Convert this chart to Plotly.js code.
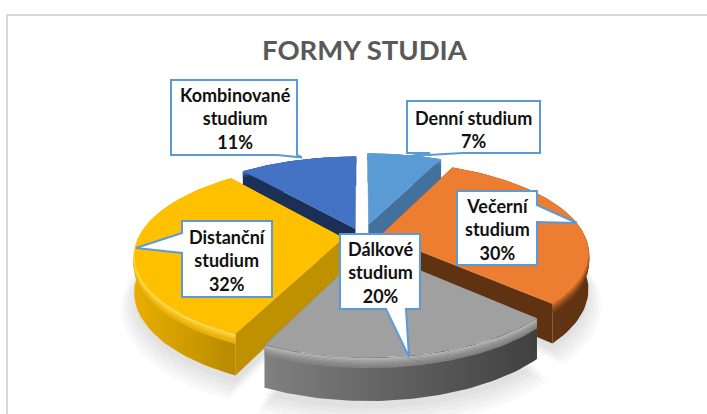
<!DOCTYPE html>
<html><head><meta charset="utf-8">
<script src="https://cdn.plot.ly/plotly-3.0.1.min.js"></script>
<style>html,body{margin:0;padding:0;background:#fff}#c{width:707px;height:414px}</style>
</head><body><div id="c"></div>
<script>
// Data
var categories = ["Denní<br>studium","Večerní<br>studium","Dálkové<br>studium","Distanční<br>studium","Kombinované<br>studium"];
var values = [7,30,20,32,11];
var chartTitle = "FORMY STUDIA";
// Styles
var topColors  = ["#5B9BD5","#ED7D31","#A0A0A0","#FFC000","#4472C4"];
var cutColors  = ["#41719C","#5F3212","#636363","#BF9000","#1B2F57"];
var wallLeft   = ["#41719C","#6E3B15","#808080","#E8AE00","#1B2F57"];
var wallRight  = ["#41719C","#5F3212","#404040","#B88A00","#1B2F57"];
var rimColors  = ["#5B9BD5","#C9682A","#B4B4B4","#FFD94A","#4472C4"];
var explodes   = [0.15,0.09,0.13,0.09,0.10];
var radii      = [1,1,0.97,1,1];
var drawOrder  = [0,4,1,3,2];
// Projection of the tilted disc
var cx=362, cy=237, rx=205, ry=88, persp=0.18, depth=35;
function P(u,v,drop){var s=1/(1+persp*v);return [cx+rx*u*s, cy-ry*v*s+(drop||0)*s];}
var total=values.reduce(function(a,b){return a+b;},0);
var traces=[];
var toRad=Math.PI/180;
var spans=[],acc=0;
values.forEach(function(v){var a0=acc/total*360;acc+=v;spans.push([a0,acc/total*360]);});
function rad(i,a,r,drop){var m=(spans[i][0]+spans[i][1])/2*toRad,e=explodes[i];
  return P(e*Math.sin(m)+r*radii[i]*Math.sin(a*toRad), e*Math.cos(m)+r*radii[i]*Math.cos(a*toRad), drop);}
function arc(i,r,drop){var p=[],n=60,a0=spans[i][0],a1=spans[i][1];
  for(var k=0;k<=n;k++)p.push(rad(i,a0+(a1-a0)*k/n,r,drop));return p;}
function apex(i,drop){return rad(i,0,0,drop);}
function poly(pts,fill,extra){var t={type:"scatter",mode:"lines",x:pts.map(function(p){return p[0];}),y:pts.map(function(p){return p[1];}),
  fill:"toself",fillcolor:fill,line:{width:0,color:fill},hoverinfo:"skip",showlegend:false};
  if(extra)for(var k in extra)t[k]=extra[k];traces.push(t);}
function stroke(pts,color,w){traces.push({type:"scatter",mode:"lines",x:pts.map(function(p){return p[0];}),y:pts.map(function(p){return p[1];}),
  line:{width:w,color:color},hoverinfo:"skip",showlegend:false});}
function hex(c){return [1,3,5].map(function(o){return parseInt(c.substr(o,2),16);});}
function wallMix(i,t){var x=hex(rimColors[i]),y=hex(wallLeft[i]);
  return "rgb("+x.map(function(v,j){return Math.round(y[j]+(v-y[j])*t);}).join(",")+")";}
// soft ground shadow
[[1.06,14],[1.045,12],[1.03,10],[1.015,8],[1.0,6]].forEach(function(s){
  drawOrder.forEach(function(i){
    poly([apex(i,depth+s[1])].concat(arc(i,s[0],depth+s[1])),"rgba(0,0,0,0.022)");
  });
});
// slices, back to front
drawOrder.forEach(function(i){
  var a=spans[i];
  [a[0],a[1]].forEach(function(ang){
    poly([apex(i,0),rad(i,ang,1,0),rad(i,ang,1,depth),apex(i,depth)],cutColors[i]);
  });
  poly(arc(i,1,0).concat(arc(i,1,depth).reverse()),wallRight[i],
       {fillgradient:{type:"horizontal",colorscale:[[0,wallLeft[i]],[1,wallRight[i]]]}});
  [8,7,6,5,4,3,2,1].forEach(function(d){
    stroke(arc(i,1,d),wallMix(i,Math.pow(1-(d-1)/8,1.6)),1.6);
  });
  poly([apex(i,0)].concat(arc(i,1,0)),topColors[i]);
});
var calloutLine={color:"#5B9BD5",width:2};
function callout(d){return {type:"path",layer:"above",xref:"x",yref:"y",path:d,fillcolor:"#FFFFFF",line:calloutLine};}
var shapes=[
 {type:"path",layer:"below",xref:"x",yref:"y",path:"M7,414 L7,15 L707,15",line:{color:"#D9D9D9",width:2},fillcolor:"rgba(0,0,0,0)"},
 callout("M171,80 L297,80 L297,155 L302,157.5 L277,155 L171,155 Z"),
 callout("M407,101 L540,101 L540,153 L463,153 L410,156 L430,153 L407,153 Z"),
 callout("M457,191 L537,191 L537,205 L577,223 L537,222 L537,265 L457,265 Z"),
 callout("M182,221 L272,221 L272,297 L182,297 L182,253 L136,248 L182,233 Z"),
 callout("M340,234 L420,234 L420,309 L406,309 L409,357 L386,309 L340,309 Z")
];
var labelFont={family:"Lato, 'Open Sans', sans-serif",size:18,color:"#111111",weight:700};
var labelPos=[[473.5,129],[497,229],[380,272],[227,260],[235,118]];
var annotations=categories.map(function(c,i){
  var text=(i===0?c.replace("<br>"," "):c)+"<br>"+Math.round(values[i]/total*100)+"%";
  return {x:labelPos[i][0],y:labelPos[i][1],xref:"x",yref:"y",text:text,showarrow:false,font:labelFont,align:"center",xanchor:"center",yanchor:"middle"};
});
annotations.push({x:364.5,y:49,xref:"x",yref:"y",text:chartTitle,showarrow:false,font:{family:"Lato, 'Open Sans', sans-serif",size:27.5,color:"#595959",weight:700},xanchor:"center",yanchor:"middle"});
Plotly.newPlot("c",traces,{
  width:707,height:414,margin:{l:0,r:0,t:0,b:0},paper_bgcolor:"#fff",plot_bgcolor:"#fff",showlegend:false,
  xaxis:{range:[0,707],visible:false,fixedrange:true},
  yaxis:{range:[414,0],visible:false,fixedrange:true},
  shapes:shapes,annotations:annotations
},{displayModeBar:false,staticPlot:true});
</script></body></html>
